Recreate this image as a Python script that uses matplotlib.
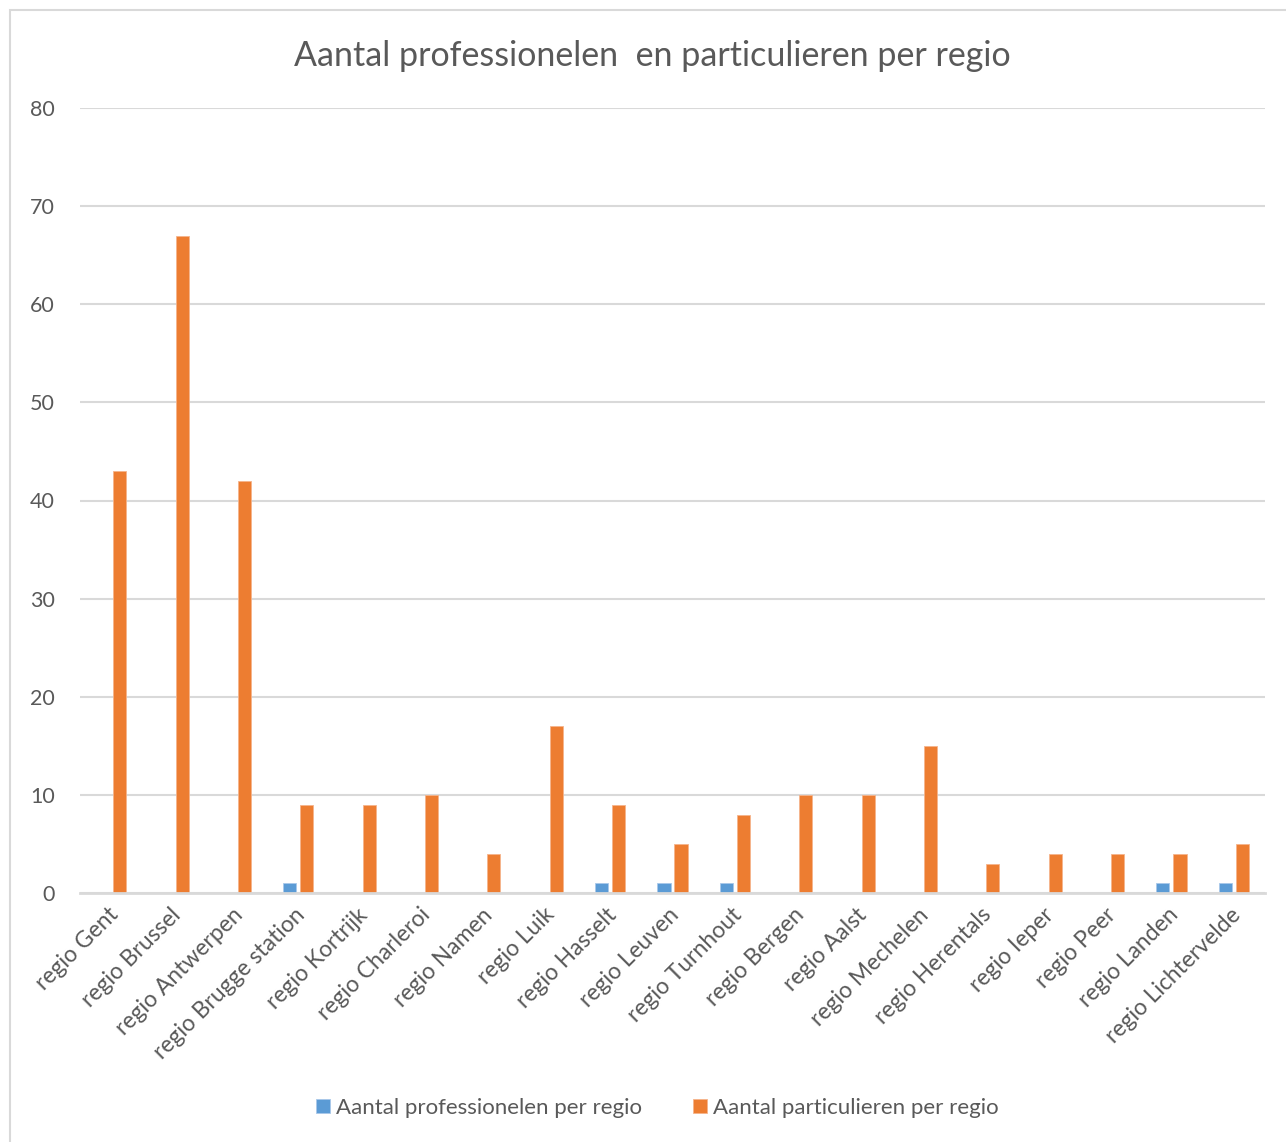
import numpy as np
import matplotlib
matplotlib.use('Agg')
from matplotlib import pyplot as plt
from matplotlib.patches import Rectangle
from matplotlib.transforms import ScaledTranslation

### data
regios = ['regio Gent', 'regio Brussel', 'regio Antwerpen', 'regio Brugge station',
          'regio Kortrijk', 'regio Charleroi', 'regio Namen', 'regio Luik',
          'regio Hasselt', 'regio Leuven', 'regio Turnhout', 'regio Bergen',
          'regio Aalst', 'regio Mechelen', 'regio Herentals', 'regio Ieper',
          'regio Peer', 'regio Landen', 'regio Lichtervelde']
professionelen = [0, 0, 0, 1, 0, 0, 0, 0, 1, 1, 1, 0, 0, 0, 0, 0, 0, 1, 1]
particulieren = [43, 67, 42, 9, 9, 10, 4, 17, 9, 5, 8, 10, 10, 15, 3, 4, 4, 4, 5]
y_ticks = [0, 10, 20, 30, 40, 50, 60, 70, 80]

blauw = '#5B9BD5'
oranje = '#ED7D31'
grijs = '#595959'

plt.rcParams['font.family'] = ['Lato', 'DejaVu Sans']

W, H = 1286, 1142
fig = plt.figure(figsize=(W/100, H/100), dpi=100)

# chart frame (left and top edge visible, rest cut off)
fig.patches.append(Rectangle((10/W, -0.05), 1.1, 1 - 10/H + 0.05, transform=fig.transFigure,
                             fill=False, edgecolor='#d9d9d9', linewidth=1.5))

ax = fig.add_axes([80/W, 1 - 893/H, (1265-80)/W, (893-108)/H])

x = np.arange(len(regios))
w = 0.21
off = 0.137
ax.bar(x - off, professionelen, w, color=blauw, edgecolor='#a9c8ea', linewidth=0.6,
       label='Aantal professionelen per regio', zorder=3)
ax.bar(x + off, particulieren, w, color=oranje, edgecolor='#f5b48c', linewidth=0.6,
       label='Aantal particulieren per regio', zorder=3)

ax.set_xlim(-0.5, len(regios) - 0.5)
ax.set_ylim(0, 80)
ax.set_yticks(y_ticks)
ax.set_yticklabels([str(v) for v in y_ticks], fontsize=15.5, color=grijs)
ax.grid(axis='y', color='#d9d9d9', linewidth=1.5, zorder=0)
ax.tick_params(axis='y', length=0, pad=18)
ax.tick_params(axis='x', length=0, pad=8)

ax.set_xticks(x)
ax.set_xticklabels(regios, rotation=45, ha='right', va='top', rotation_mode='anchor',
                   fontsize=16.5, color=grijs)
# shift labels a bit to the left, like the original
for lbl in ax.get_xticklabels():
    lbl.set_transform(lbl.get_transform() + ScaledTranslation(-4/100, 0, fig.dpi_scale_trans))

for s in ['top', 'right', 'left']:
    ax.spines[s].set_visible(False)
ax.spines['bottom'].set_color('#d9d9d9')
ax.spines['bottom'].set_linewidth(2)
ax.spines['bottom'].set_zorder(4)

fig.text(652/W, 1 - 56/H, 'Aantal professionelen  en particulieren per regio',
         ha='center', va='center', fontsize=24.5, color=grijs)

fig.legend(loc='center', bbox_to_anchor=(657/W, 1 - 1108/H), ncol=2, frameon=False,
           fontsize=16, labelcolor=grijs, handlelength=0.63, handleheight=0.63,
           handletextpad=0.27, columnspacing=2.3)

plt.savefig('out.png', dpi=100)
